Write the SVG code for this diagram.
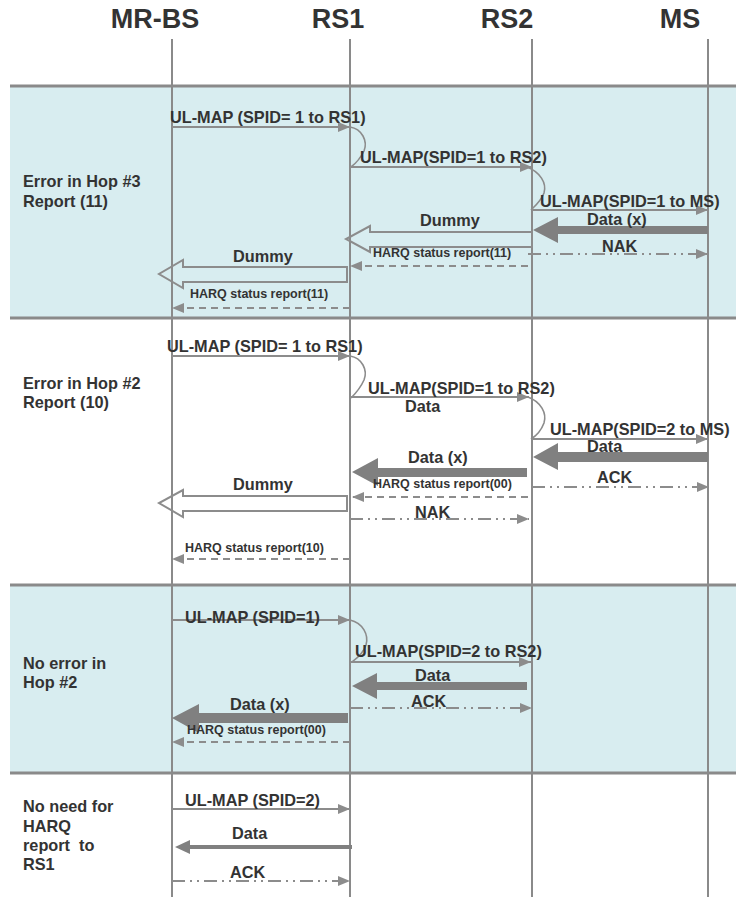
<svg xmlns="http://www.w3.org/2000/svg" width="736" height="897" viewBox="0 0 736 897">
<defs>
<style>
text{font-family:"Liberation Sans",Arial,sans-serif;font-weight:bold;fill:#333333}
.title{font-size:27px;text-anchor:middle}
.lbl{font-size:16.3px}
.sm{font-size:12.5px}
.sec{font-size:16.3px}
.life{stroke:#8a8a8a;stroke-width:2}
.sep{stroke:#8a8a8a;stroke-width:3}
.band{fill:#d8edf0}
.msg{stroke:#8c8c8c;stroke-width:2;fill:none;marker-end:url(#ah)}
.dash{stroke:#8c8c8c;stroke-width:2;fill:none;stroke-dasharray:7,5;marker-end:url(#ah)}
.dd{stroke:#8c8c8c;stroke-width:2;fill:none;stroke-dasharray:13,5,2,5,2,5;marker-end:url(#ah)}
.curve{stroke:#8c8c8c;stroke-width:1.6;fill:none}
.thick{fill:#808080}
.hollow{fill:none;stroke:#8c8c8c;stroke-width:2}
</style>
<marker id="ah" viewBox="0 0 12 10" refX="12" refY="5" markerWidth="12" markerHeight="10" markerUnits="userSpaceOnUse" orient="auto">
<path d="M0,0 L12,5 L0,10 z" fill="#8c8c8c"/>
</marker>
</defs>
<rect width="736" height="897" fill="#ffffff"/>
<g id="bands">
<rect class="band" x="10" y="86" width="726" height="232"/>
<rect class="band" x="10" y="585" width="726" height="188"/>
<line class="sep" x1="10" y1="86" x2="736" y2="86"/>
<line class="sep" x1="10" y1="318" x2="736" y2="318"/>
<line class="sep" x1="10" y1="585" x2="736" y2="585"/>
<line class="sep" x1="10" y1="773" x2="736" y2="773"/>
</g>
<g id="section-labels">
<text class="sec" x="23" y="187">Error in Hop #3</text>
<text class="sec" x="23" y="207">Report (11)</text>
<text class="sec" x="23" y="389">Error in Hop #2</text>
<text class="sec" x="23" y="408">Report (10)</text>
<text class="sec" x="23" y="669">No error in</text>
<text class="sec" x="23" y="688">Hop #2</text>
<text class="sec" x="23" y="812">No need for</text>
<text class="sec" x="23" y="832">HARQ</text>
<text class="sec" x="23" y="851" xml:space="preserve">report  to</text>
<text class="sec" x="23" y="870">RS1</text>
</g>
<g id="node-mrbs">
<text class="title" x="155" y="28">MR-BS</text>
<line class="life" x1="172" y1="39" x2="172" y2="897"/>
</g>
<g id="node-rs1">
<text class="title" x="338" y="28">RS1</text>
<line class="life" x1="350" y1="39" x2="350" y2="897"/>
</g>
<g id="node-rs2">
<text class="title" x="507" y="28">RS2</text>
<line class="life" x1="532" y1="39" x2="532" y2="897"/>
</g>
<g id="node-ms">
<text class="title" x="680" y="28">MS</text>
<line class="life" x1="708" y1="39" x2="708" y2="897"/>
</g>
<g id="connectors">
<line class="msg" x1="172" y1="127" x2="350" y2="127"/>
<path class="curve" d="M350,127 C362,129 368,141 364,151 C360,159 355,164 351,167"/>
<line class="msg" x1="350" y1="167" x2="532" y2="167"/>
<path class="curve" d="M527,167 C540,172 547,183 544,193 C541,201 535,206 531,210"/>
<line class="msg" x1="532" y1="210" x2="708" y2="210"/>
<polygon class="thick" points="708,226 558,226 558,217 533,230 558,243 558,234 708,234"/>
<polygon class="hollow" points="532,232 370,232 370,226 346,239 370,252 370,247 532,247"/>
<line class="dd" x1="528" y1="254" x2="708" y2="254"/>
<line class="dash" x1="528" y1="266" x2="350" y2="266"/>
<polygon class="hollow" points="347,267 183,267 183,260 159,274 183,288 183,282 347,282"/>
<line class="dash" x1="350" y1="308" x2="172" y2="308"/>
<line class="msg" x1="172" y1="356" x2="350" y2="356"/>
<path class="curve" d="M350,356 C362,358 368,370 364,380 C360,389 355,394 351,398"/>
<line class="msg" x1="350" y1="397" x2="529" y2="397"/>
<path class="curve" d="M528,397 C541,402 547,413 544,423 C541,431 536,436 531,439"/>
<line class="msg" x1="532" y1="439" x2="708" y2="439"/>
<polygon class="thick" points="708,452 558,452 558,443 533,457 558,470 558,462 708,462"/>
<polygon class="thick" points="527,468 378,468 378,458 352,472 378,486 378,477 527,477"/>
<line class="dd" x1="532" y1="487" x2="709" y2="487"/>
<line class="dash" x1="528" y1="497" x2="352" y2="497"/>
<polygon class="hollow" points="347,496 183,496 183,490 159,503 183,517 183,511 347,511"/>
<line class="dd" x1="350" y1="519" x2="529" y2="519"/>
<line class="dash" x1="350" y1="559" x2="172" y2="559"/>
<line class="msg" x1="172" y1="620" x2="350" y2="620"/>
<path class="curve" d="M350,620 C363,623 369,635 366,645 C363,654 356,659 352,662"/>
<line class="msg" x1="350" y1="662" x2="531" y2="662"/>
<polygon class="thick" points="527,682 377,682 377,673 352,686 377,699 377,690 527,690"/>
<line class="dd" x1="350" y1="708" x2="532" y2="708"/>
<polygon class="thick" points="348,713 199,713 199,704 172,718 199,733 199,723 348,723"/>
<line class="dash" x1="350" y1="742" x2="172" y2="742"/>
<line class="msg" x1="172" y1="809" x2="350" y2="809"/>
<line x1="352" y1="847" x2="189" y2="847" stroke="#808080" stroke-width="4"/>
<polygon class="thick" points="190,840 175,847 190,854"/>
<line class="dd" x1="172" y1="881" x2="350" y2="881"/>
</g>
<g id="message-labels">
<text class="lbl" x="170" y="123">UL-MAP (SPID= 1 to RS1)</text>
<text class="lbl" x="360" y="163">UL-MAP(SPID=1 to RS2)</text>
<text class="lbl" x="540" y="207">UL-MAP(SPID=1 to MS)</text>
<text class="lbl" x="587" y="225">Data (x)</text>
<text class="lbl" x="420" y="226">Dummy</text>
<text class="sm" x="373" y="257">HARQ status report(11)</text>
<text class="lbl" x="602" y="252">NAK</text>
<text class="lbl" x="233" y="262">Dummy</text>
<text class="sm" x="190" y="298">HARQ status report(11)</text>
<text class="lbl" x="167" y="352">UL-MAP (SPID= 1 to RS1)</text>
<text class="lbl" x="368" y="394">UL-MAP(SPID=1 to RS2)</text>
<text class="lbl" x="405" y="412">Data</text>
<text class="lbl" x="550" y="435">UL-MAP(SPID=2 to MS)</text>
<text class="lbl" x="587" y="452">Data</text>
<text class="lbl" x="408" y="463">Data (x)</text>
<text class="sm" x="373" y="488">HARQ status report(00)</text>
<text class="lbl" x="597" y="483">ACK</text>
<text class="lbl" x="233" y="490">Dummy</text>
<text class="lbl" x="415" y="518">NAK</text>
<text class="sm" x="185" y="552">HARQ status report(10)</text>
<text class="lbl" x="185" y="623">UL-MAP (SPID=1)</text>
<text class="lbl" x="355" y="657">UL-MAP(SPID=2 to RS2)</text>
<text class="lbl" x="415" y="681">Data</text>
<text class="lbl" x="411" y="707">ACK</text>
<text class="lbl" x="230" y="710">Data (x)</text>
<text class="sm" x="187" y="734">HARQ status report(00)</text>
<text class="lbl" x="185" y="806">UL-MAP (SPID=2)</text>
<text class="lbl" x="232" y="839">Data</text>
<text class="lbl" x="230" y="878">ACK</text>
</g>
</svg>
